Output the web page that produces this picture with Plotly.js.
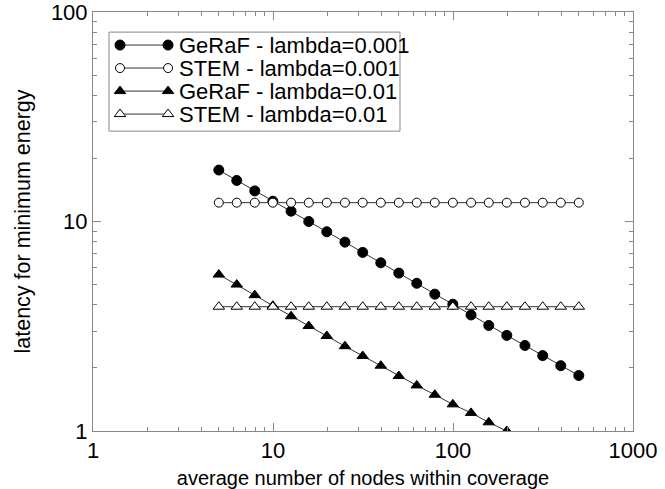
<!DOCTYPE html>
<html>
<head>
<meta charset="utf-8">
<script src="https://cdn.plot.ly/plotly-3.0.1.min.js"></script>
<style>html,body{margin:0;padding:0;background:#fff;}#chart{width:665px;height:489px;}</style>
</head>
<body>
<div id="chart"></div>
<script>
// x: average number of nodes within coverage
const nodes = [5, 6.29, 7.92, 9.98, 12.6, 15.8, 19.9, 25.1, 31.5, 39.7, 50, 62.9, 79.2, 99.8, 126, 158, 199, 251, 315, 397, 500];
const nodesShort = [5, 6.29, 7.92, 9.98, 12.6, 15.8, 19.9, 25.1, 31.5, 39.7, 50, 62.9, 79.2, 99.8, 126, 158, 199];

const gerafL001 = [17.6, 15.7, 14.0, 12.5, 11.2, 10.0, 8.93, 7.97, 7.12, 6.35, 5.67, 5.07, 4.50, 4.03, 3.58, 3.19, 2.86, 2.56, 2.29, 2.05, 1.84];
const stemL001  = [12.3, 12.3, 12.3, 12.3, 12.3, 12.3, 12.3, 12.3, 12.3, 12.3, 12.3, 12.3, 12.3, 12.3, 12.3, 12.3, 12.3, 12.3, 12.3, 12.3, 12.3];
const gerafL01  = [5.58, 5.0, 4.45, 3.96, 3.53, 3.17, 2.84, 2.54, 2.28, 2.05, 1.83, 1.65, 1.49, 1.34, 1.22, 1.10, 1.0];
const stemL01   = [3.92, 3.92, 3.92, 3.92, 3.92, 3.92, 3.92, 3.92, 3.92, 3.92, 3.92, 3.92, 3.92, 3.92, 3.92, 3.92, 3.92, 3.92, 3.92, 3.92, 3.92];

const seriesNames = ['GeRaF - lambda=0.001', 'STEM - lambda=0.001', 'GeRaF - lambda=0.01', 'STEM - lambda=0.01'];

const xTickVals = [1, 10, 100, 1000];
const xTickText = ['1', '10', '100', '1000'];
const yTickVals = [1, 10, 100];
const yTickText = ['1', '10', '100'];
const xMinorVals = [2,3,4,5,6,7,8,9,20,30,40,50,60,70,80,90,200,300,400,500,600,700,800,900];
const yMinorVals = [2,3,4,5,6,7,8,9,20,30,40,50,60,70,80,90];

const lineStyle = {color: '#333', width: 1};
const FONT = 'Liberation Sans, Arial, Helvetica, sans-serif';

const markers = [
  {symbol: 'circle', size: 10, color: '#000', line: {color: '#000', width: 1}},
  {symbol: 'circle', size: 9, color: '#fff', line: {color: '#000', width: 1}},
  {symbol: 'triangle-up', size: 10, color: '#000', line: {color: '#000', width: 1}},
  {symbol: 'triangle-up', size: 10, color: '#fff', line: {color: '#000', width: 1}}
];
const xs = [nodes, nodes, nodesShort, nodes];
const ys = [gerafL001, stemL001, gerafL01, stemL01];

const traces = [];
for (let i = 0; i < 4; i++) {
  traces.push({x: xs[i], y: ys[i], name: seriesNames[i], mode: 'lines+markers',
    line: lineStyle, marker: markers[i], showlegend: false});
}

// gnuplot-style key (marker at both ends of the sample line), placed in plot-fraction coords
const keyLeft = 0.0296, keyRight = 0.5685, keyTop = 0.952, keyBottom = 0.7157;
const keyRowTop = 0.9211, keyRowStep = 0.0549;
const keyX0 = 0.050, keyX1 = 0.139, keyTextX = 0.157;
const annotations = [];
for (let i = 0; i < 4; i++) {
  const ry = keyRowTop - i * keyRowStep;
  traces.push({x: [keyX0, keyX1], y: [ry, ry], mode: 'lines+markers', xaxis: 'x2', yaxis: 'y2',
    line: lineStyle, marker: markers[i], showlegend: false, hoverinfo: 'skip'});
  annotations.push({xref: 'x2', yref: 'y2', x: keyTextX, y: ry, xanchor: 'left', yanchor: 'middle',
    align: 'left', borderpad: 0, text: seriesNames[i], showarrow: false,
    font: {family: FONT, size: 22, color: '#000'}});
}

const axisCommon = {
  type: 'log',
  showgrid: false,
  zeroline: false,
  showline: true,
  linecolor: '#888',
  linewidth: 1,
  mirror: 'allticks',
  ticks: 'inside',
  ticklen: 8,
  tickcolor: '#888',
  tickwidth: 1,
  tickmode: 'array',
  ticklabeloverflow: 'allow',
  tickfont: {family: FONT, size: 22, color: '#000'}
};

const layout = {
  width: 665,
  height: 489,
  margin: {l: 93, r: 32, t: 12, b: 58},
  paper_bgcolor: '#fff',
  plot_bgcolor: '#fff',
  font: {family: FONT, size: 20, color: '#000'},
  showlegend: false,
  annotations: annotations,
  shapes: [{type: 'rect', xref: 'paper', yref: 'paper', x0: keyLeft, x1: keyRight, y0: keyBottom, y1: keyTop,
    line: {color: '#888', width: 1}, fillcolor: 'rgba(0,0,0,0)', layer: 'below'}],
  xaxis: Object.assign({}, axisCommon, {
    range: [0, 3],
    tickvals: xTickVals, ticktext: xTickText,
    minor: {tickmode: 'array', tickvals: xMinorVals, ticks: 'inside', ticklen: 4, tickcolor: '#888', showgrid: false},
    title: {text: 'average number of nodes within coverage', font: {family: FONT, size: 20, color: '#000'}, standoff: 10}
  }),
  yaxis: Object.assign({}, axisCommon, {
    range: [0, 2],
    tickvals: yTickVals, ticktext: yTickText,
    minor: {tickmode: 'array', tickvals: yMinorVals, ticks: 'inside', ticklen: 4, tickcolor: '#888', showgrid: false},
    title: {text: 'latency for minimum energy', font: {family: FONT, size: 21.5, color: '#000'}, standoff: 14}
  }),
  xaxis2: {overlaying: 'x', range: [0, 1], visible: false, fixedrange: true},
  yaxis2: {overlaying: 'y', range: [0, 1], visible: false, fixedrange: true}
};

Plotly.newPlot('chart', traces, layout, {displayModeBar: false, staticPlot: true});
</script>
</body>
</html>
